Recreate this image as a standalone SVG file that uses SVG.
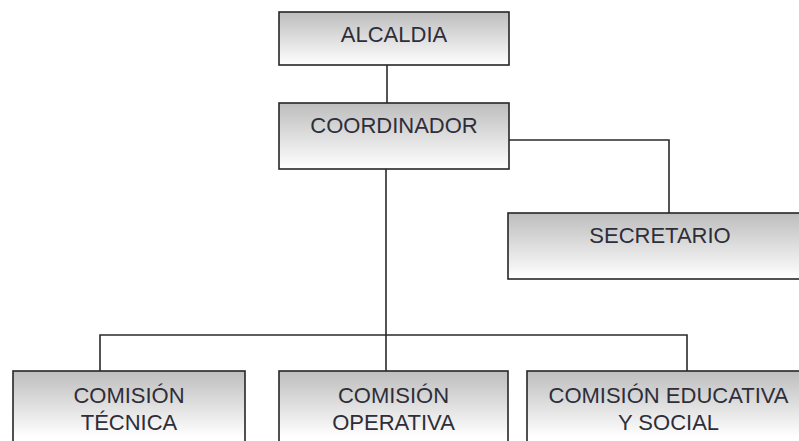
<svg xmlns="http://www.w3.org/2000/svg" width="799" height="441" viewBox="0 0 799 441">
<defs>
<linearGradient id="g" x1="0" y1="0" x2="0" y2="1">
<stop offset="0" stop-color="#bdbdbd"/>
<stop offset="1" stop-color="#ffffff"/>
</linearGradient>
<linearGradient id="gb" gradientUnits="userSpaceOnUse" x1="0" y1="371" x2="0" y2="437">
<stop offset="0" stop-color="#bdbdbd"/>
<stop offset="1" stop-color="#ffffff"/>
</linearGradient>
</defs>
<style>
.box{fill:url(#g);stroke:#262626;stroke-width:1.6}
.boxb{fill:url(#gb);stroke:#262626;stroke-width:1.6}
.t{font-family:"Liberation Sans",Arial,sans-serif;font-size:22px;fill:#2e2e3a;text-anchor:middle}
.c{fill:none;stroke:#2a2a2a;stroke-width:1.6}
</style>
<rect width="799" height="441" fill="#ffffff"/>
<g id="connectors">
<path class="c" d="M387 65 V103"/>
<path class="c" d="M509 140 H669 V213"/>
<path class="c" d="M386 169 V371"/>
<path class="c" d="M100 371 V335 H687 V371"/>
</g>
<g id="alcaldia">
<rect class="box" x="279" y="12" width="230" height="53"/>
<text class="t" x="394" y="42">ALCALDIA</text>
</g>
<g id="coordinador">
<rect class="box" x="279" y="103" width="230" height="66"/>
<text class="t" x="394" y="133">COORDINADOR</text>
</g>
<g id="secretario">
<rect class="box" x="508" y="213" width="304" height="66"/>
<text class="t" x="660" y="243">SECRETARIO</text>
</g>
<g id="comision-tecnica">
<rect class="boxb" x="13" y="371" width="232" height="90"/>
<text class="t" x="129" y="403">COMISIÓN</text>
<text class="t" x="129" y="430">TÉCNICA</text>
</g>
<g id="comision-operativa">
<rect class="boxb" x="279" y="371" width="229" height="90"/>
<text class="t" x="393.5" y="403">COMISIÓN</text>
<text class="t" x="393.5" y="430">OPERATIVA</text>
</g>
<g id="comision-educativa">
<rect class="boxb" x="527" y="371" width="290" height="90"/>
<text class="t" x="668.5" y="403">COMISIÓN EDUCATIVA</text>
<text class="t" x="668.5" y="430">Y SOCIAL</text>
</g>
</svg>
